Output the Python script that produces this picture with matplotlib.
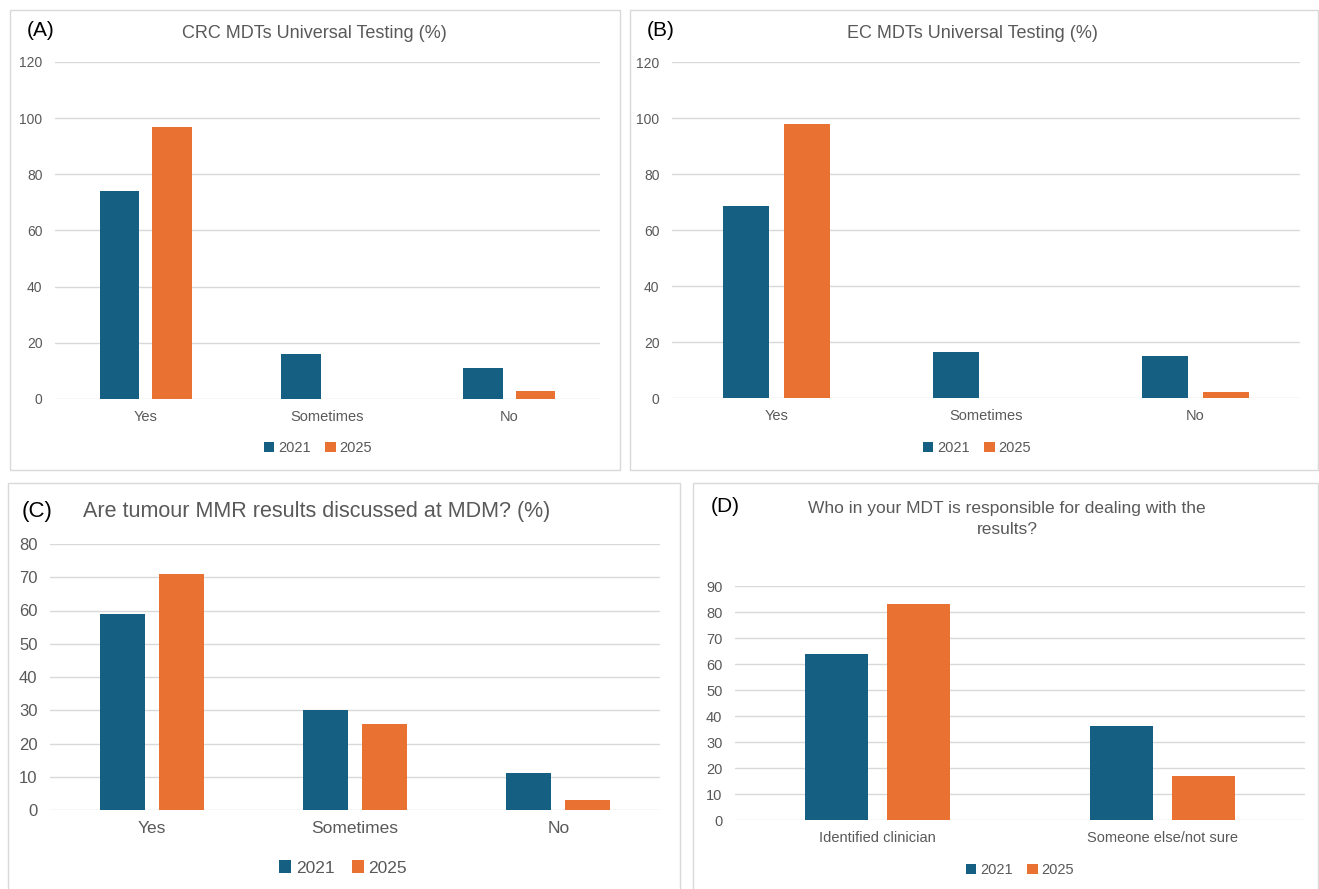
import matplotlib.pyplot as plt
from matplotlib.patches import Rectangle

plt.rcParams['font.family'] = ['Liberation Sans', 'DejaVu Sans']

BLUE = '#156082'
ORANGE = '#E97132'
GRID = '#D9D9D9'
TXT = '#595959'

W, H = 1319, 889

# data
cats_abc = ['Yes', 'Sometimes', 'No']
cats_d = ['Identified clinician', 'Someone else/not sure']
years = ['2021', '2025']

crc_2021 = [74, 16, 11]
crc_2025 = [97, 0, 3]
ec_2021 = [68.5, 16.5, 15]
ec_2025 = [98, 0, 2]
mdm_2021 = [59, 30, 11]
mdm_2025 = [71, 26, 3]
who_2021 = [64, 36]
who_2025 = [83, 17]

fig = plt.figure(figsize=(W / 100, H / 100), dpi=100)


def px_rect(x0, y0, x1, y1):
    return [x0 / W, 1 - y1 / H, (x1 - x0) / W, (y1 - y0) / H]


def panel_box(x0, y0, x1, y1):
    fig.patches.append(Rectangle((x0 / W, 1 - y1 / H), (x1 - x0) / W, (y1 - y0) / H,
                                 transform=fig.transFigure, fill=False,
                                 edgecolor=GRID, linewidth=1.0))


def fig_text(x, y, s, **kw):
    fig.text(x / W, 1 - y / H, s, **kw)


def bars(rect, cats, v1, v2, ymax, step, tick_fs, cat_fs):
    ax = fig.add_axes(px_rect(*rect))
    xs = list(range(len(cats)))
    w = 0.22
    off = 0.145
    ax.bar([x - off for x in xs], v1, width=w, color=BLUE, label=years[0], zorder=3)
    ax.bar([x + off for x in xs], v2, width=w, color=ORANGE, label=years[1], zorder=3)
    ax.set_xlim(-0.5, len(cats) - 0.5)
    ax.set_ylim(0, ymax)
    ax.set_yticks(range(0, ymax + 1, step))
    ax.set_xticks(xs)
    ax.set_xticklabels(cats, fontsize=cat_fs, color=TXT)
    ax.tick_params(axis='y', labelsize=tick_fs, colors=TXT, length=0, pad=9)
    ax.tick_params(axis='x', length=0, pad=8)
    ax.yaxis.grid(True, color=GRID, linewidth=1.0, zorder=0)
    ax.set_axisbelow(True)
    for s in ax.spines.values():
        s.set_visible(False)
    ax.set_facecolor('none')
    return ax


def legend(ax, x, y, fs):
    h, l = ax.get_legend_handles_labels()
    fig.legend(h, l, loc='center', bbox_to_anchor=(x / W, 1 - y / H), ncol=2,
               frameon=False, fontsize=fs, handlelength=0.7, handleheight=0.7,
               handletextpad=0.25, columnspacing=1.0, labelcolor=TXT)


# (A)
panel_box(10, 10, 620, 470)
axA = bars((55, 62, 600, 399), cats_abc, crc_2021, crc_2025, 120, 20, 10, 10.5)
fig_text(27, 31, '(A)', fontsize=15, va='center', ha='left', color='black')
fig_text(314, 33, 'CRC MDTs Universal Testing (%)', fontsize=13, va='center', ha='center', color=TXT)
legend(axA, 318, 448, 10.5)

# (B)
panel_box(630, 10, 1318, 470)
axB = bars((672, 62, 1300, 398), cats_abc, ec_2021, ec_2025, 120, 20, 10, 10.5)
fig_text(647, 31, '(B)', fontsize=15, va='center', ha='left', color='black')
fig_text(972, 33, 'EC MDTs Universal Testing (%)', fontsize=13, va='center', ha='center', color=TXT)
legend(axB, 977, 448, 10.5)

# (C)
panel_box(8, 483, 680, 895)
axC = bars((50, 544, 660, 810), cats_abc, mdm_2021, mdm_2025, 80, 10, 12, 12.5)
fig_text(22, 511, '(C)', fontsize=16, va='center', ha='left', color='black')
fig_text(317, 511, 'Are tumour MMR results discussed at MDM? (%)', fontsize=15.5,
         va='center', ha='center', color=TXT)
legend(axC, 343, 868, 12.5)

# (D)
panel_box(693, 483, 1318, 895)
axD = bars((735, 586, 1305, 820), cats_d, who_2021, who_2025, 90, 10, 10.5, 10.5)
fig_text(711, 506, '(D)', fontsize=15, va='center', ha='left', color='black')
fig_text(1007, 519, 'Who in your MDT is responsible for dealing with the\nresults?',
         fontsize=12.5, va='center', ha='center', color=TXT, linespacing=1.45)
legend(axD, 1020, 870, 10.5)

fig.savefig('out.png', dpi=100)
